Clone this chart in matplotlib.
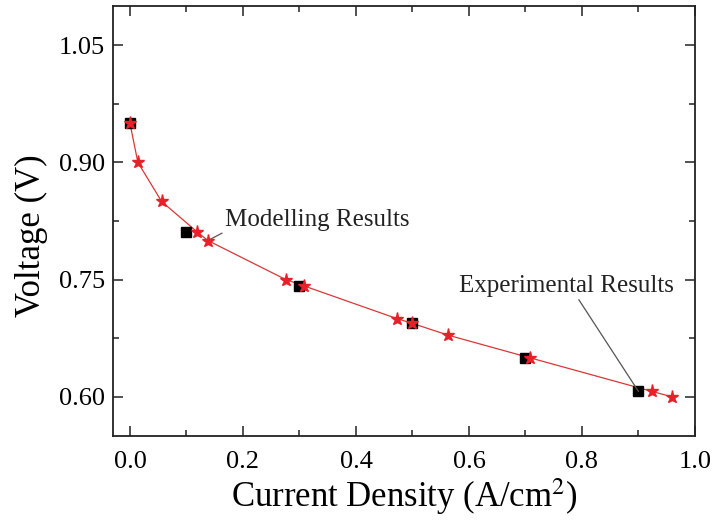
import matplotlib
matplotlib.use("Agg")
import matplotlib.pyplot as plt
from matplotlib.ticker import MultipleLocator

# experimental points (black squares)
exp_current = [0.0, 0.1, 0.3, 0.5, 0.7, 0.9]
exp_voltage = [0.950, 0.811, 0.742, 0.694, 0.650, 0.607]

# modelling points (red stars + line)
mod_current = [0.0, 0.014, 0.056, 0.119, 0.138, 0.276, 0.308, 0.473, 0.50, 0.563, 0.708, 0.924, 0.96]
mod_voltage = [0.950, 0.900, 0.850, 0.811, 0.800, 0.750, 0.742, 0.700, 0.694, 0.679, 0.650, 0.607, 0.600]

plt.rcParams['font.family'] = ['Liberation Serif', 'DejaVu Serif']
plt.rcParams['mathtext.fontset'] = 'stix'

fig = plt.figure(figsize=(7.12, 5.20), dpi=100)
ax = fig.add_axes([113 / 712, 1 - 436 / 520, (695 - 113) / 712, (436 - 6) / 520])

ax.plot(mod_current, mod_voltage, color='#d83838', lw=0.9, zorder=2)
ax.plot(exp_current, exp_voltage, 's', color='black', ms=7, zorder=3)
ax.plot(mod_current, mod_voltage, '*', color='#e8202a', ms=9.5, mec='#e8202a', zorder=4)

ax.annotate('Modelling Results', xy=(0.138, 0.800), xytext=(0.168, 0.826),
            fontsize=18, va='center', ha='left', color='#222222',
            arrowprops=dict(arrowstyle='-', color='#555555', lw=0.9,
                            shrinkA=0, shrinkB=0, relpos=(0.05, 0.2)))
ax.annotate('Experimental Results', xy=(0.9, 0.607), xytext=(0.582, 0.742),
            fontsize=18, va='center', ha='left', color='#222222',
            arrowprops=dict(arrowstyle='-', color='#555555', lw=0.9,
                            shrinkA=0, shrinkB=0, relpos=(0.55, 0.0)))

ax.set_xlim(-0.03, 1.0)
ax.set_ylim(0.55, 1.10)
ax.xaxis.set_minor_locator(MultipleLocator(0.1))
ax.yaxis.set_minor_locator(MultipleLocator(0.075))
ax.set_yticks([0.60, 0.75, 0.90, 1.05])
ax.set_yticklabels(['0.60', '0.75', '0.90', '1.05'])
ax.set_xticks([0.0, 0.2, 0.4, 0.6, 0.8, 1.0])
ax.set_xticklabels(['0.0', '0.2', '0.4', '0.6', '0.8', '1.0'])

ax.tick_params(which='both', direction='in', top=True, right=True, width=1.1, color='#222222')
ax.tick_params(which='major', length=7)
ax.tick_params(which='minor', length=4)
ax.tick_params(axis='x', which='major', labelsize=19, pad=11)
ax.tick_params(axis='y', which='major', labelsize=19, pad=6)
for sp in ax.spines.values():
    sp.set_linewidth(1.3)
    sp.set_color('#222222')

ax.set_xlabel('Current Density (A/cm$^2$)', fontsize=25, labelpad=2)
ax.set_ylabel('Voltage (V)', fontsize=25)
ax.yaxis.set_label_coords(-0.112, 0.465)

fig.savefig('out.png', dpi=100)
